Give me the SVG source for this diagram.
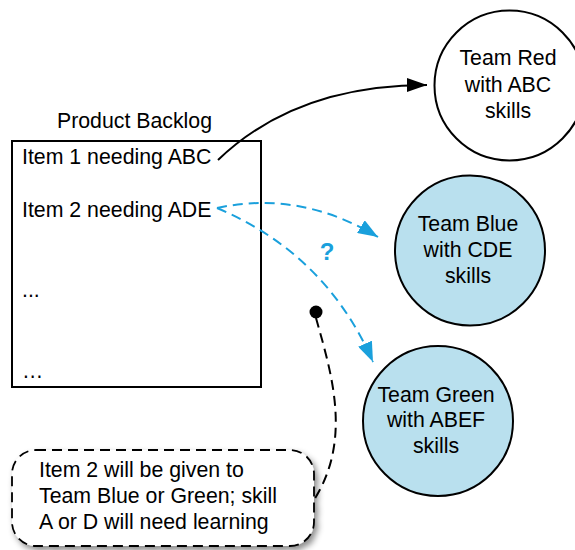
<svg xmlns="http://www.w3.org/2000/svg" width="575" height="550" viewBox="0 0 575 550">
<style>
text{font-family:"Liberation Sans",Arial,Helvetica,sans-serif;font-size:21.3px;fill:#000}
.mid{text-anchor:middle}
.team{stroke:#000;stroke-width:2}
.blue{fill:#b9e0ee}
.conn{fill:none;stroke-width:2}
.dblue{stroke:#1aa0dc;stroke-dasharray:10 6}
.black{stroke:#000}
.q{fill:#1aa0dc;font-weight:bold;font-size:24px}
</style>
<defs>
<marker id="ab" viewBox="0 0 20 14" refX="20" refY="7" markerWidth="20" markerHeight="14" markerUnits="userSpaceOnUse" orient="auto"><path d="M0,0L20,7L0,14z" fill="#000"/></marker>
<marker id="abl" viewBox="0 0 20 15" refX="20" refY="7.5" markerWidth="20" markerHeight="15" markerUnits="userSpaceOnUse" orient="auto"><path d="M0,0L20,7.5L0,15z" fill="#1aa0dc"/></marker>
<filter id="sh" x="-10%" y="-20%" width="130%" height="150%"><feDropShadow dx="3" dy="4" stdDeviation="3" flood-color="#000" flood-opacity="0.45"/></filter>
</defs>
<g id="backlog">
<text class="mid" x="134.5" y="127.5">Product Backlog</text>
<rect x="12" y="141" width="249" height="246" fill="#fff" stroke="#000" stroke-width="2"/>
<text x="22" y="164">Item 1 needing ABC</text>
<text x="22" y="217">Item 2 needing ADE</text>
<text x="22" y="297">...</text>
<text x="22" y="378">…</text>
</g>
<g id="team-red">
<circle class="team" cx="509.5" cy="85.5" r="75" fill="#fff"/>
<text class="mid" x="508" y="65">Team Red</text>
<text class="mid" x="508" y="91.5">with ABC</text>
<text class="mid" x="508" y="118">skills</text>
</g>
<g id="team-blue">
<circle class="team blue" cx="470" cy="250.5" r="75"/>
<text class="mid" x="468" y="231">Team Blue</text>
<text class="mid" x="468" y="257">with CDE</text>
<text class="mid" x="468" y="283">skills</text>
</g>
<g id="team-green">
<circle class="team blue" cx="438" cy="421" r="75"/>
<text class="mid" x="436" y="401.5">Team Green</text>
<text class="mid" x="436" y="427">with ABEF</text>
<text class="mid" x="436" y="453">skills</text>
</g>
<g id="note">
<rect x="12" y="450" width="302" height="96" rx="24" ry="24" fill="#fff" stroke="#000" stroke-width="1.8" stroke-dasharray="10 6" filter="url(#sh)"/>
<text x="39" y="477">Item 2 will be given to</text>
<text x="39" y="503">Team Blue or Green; skill</text>
<text x="39" y="529">A or D will need learning</text>
</g>
<g id="connectors">
<path class="conn black" d="M218,160 C270,110 340,85 427,85" marker-end="url(#ab)"/>
<path class="conn dblue" d="M217,208 Q300,190 378,237" marker-end="url(#abl)"/>
<path class="conn dblue" d="M217,208 Q326,254 373,362" marker-end="url(#abl)"/>
<text class="q mid" x="327" y="260">?</text>
<circle cx="316" cy="312" r="6.5" fill="#000"/>
<path class="conn black" stroke-width="1.8" stroke-dasharray="10 6" d="M316,318 C332,375 352,440 314,500"/>
</g>
</svg>
